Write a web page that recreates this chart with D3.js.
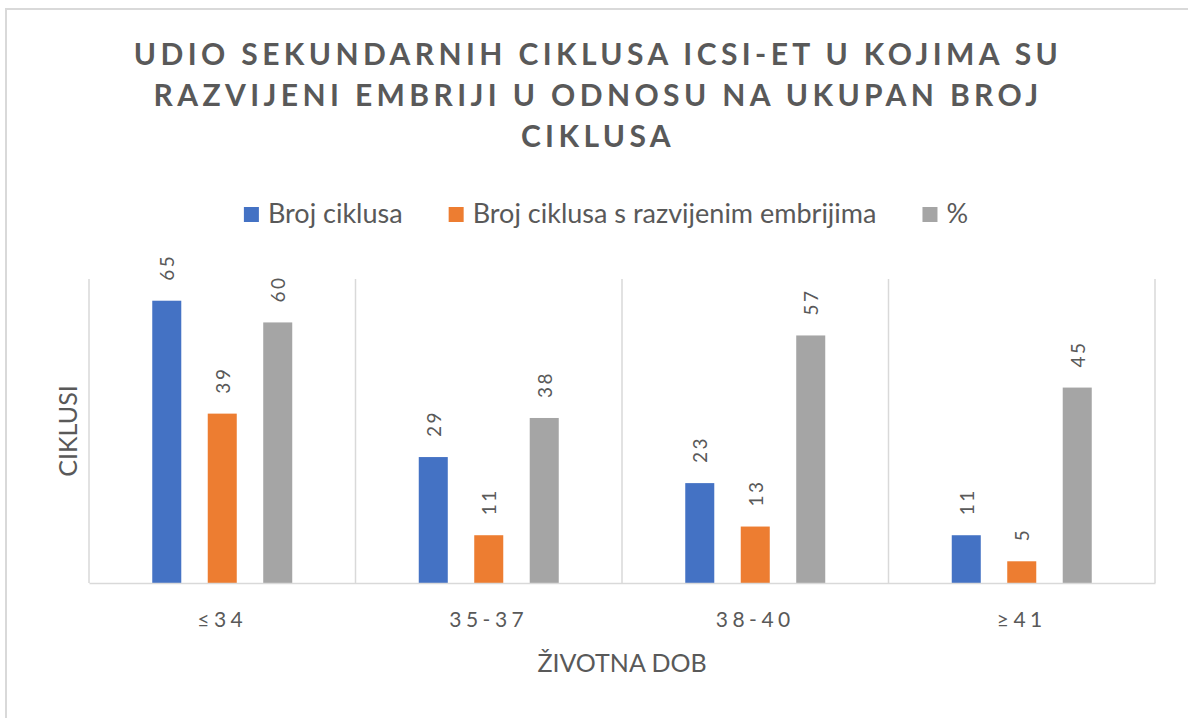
<!DOCTYPE html>
<html>
<head>
<meta charset="utf-8">
<script src="https://cdnjs.cloudflare.com/ajax/libs/d3/7.8.5/d3.min.js"></script>
<style>
  body { margin: 0; background: #ffffff; }
  text { font-family: Lato, "Open Sans", sans-serif; fill: #595959; }
</style>
</head>
<body>
<div id="chart"></div>
<script>
// data
var categories = ["≤34", "35-37", "38-40", "≥41"];
var seriesNames = ["Broj ciklusa", "Broj ciklusa s razvijenim embrijima", "%"];
var brojCiklusa = [65, 29, 23, 11];
var sEmbrijima = [39, 11, 13, 5];
var postotak = [60, 38, 57, 45];
var titleLines = ["UDIO SEKUNDARNIH CIKLUSA ICSI-ET U KOJIMA SU",
                  "RAZVIJENI EMBRIJI U ODNOSU NA UKUPAN BROJ",
                  "CIKLUSA"];
var yMax = 70;

var colors = ["#4472C4", "#ED7D31", "#A5A5A5"];

var width = 1188,
    height = 718,
    margin = {top: 279, right: 33, bottom: 135, left: 89},
    midX = 598;

var svg = d3.select("#chart")
    .append("svg")
    .attr("width", width)
    .attr("height", height);

svg.append("rect")
    .attr("width", width).attr("height", height)
    .attr("fill", "#ffffff");

// outer chart border (cropped on right/bottom in the original)
svg.append("rect")
    .attr("x", 6).attr("y", 9)
    .attr("width", 1220).attr("height", 740)
    .attr("fill", "none")
    .attr("stroke", "#D9D9D9")
    .attr("stroke-width", 2);

// title
var title = svg.append("g").attr("class", "title");
title.selectAll("text")
  .data(titleLines)
  .enter().append("text")
    .attr("x", midX)
    .attr("y", function(d, i) { return 65 + i * 41; })
    .attr("text-anchor", "middle")
    .attr("font-size", 30)
    .attr("font-weight", "bold")
    .attr("letter-spacing", 4.4)
    .text(function(d) { return d; });

// scales
var x0 = d3.scaleBand()
    .domain(categories)
    .range([margin.left, width - margin.right])
    .padding(0);

var x1 = d3.scaleBand()
    .domain(d3.range(seriesNames.length))
    .range([0, x0.bandwidth()])
    .paddingInner(0.477)
    .paddingOuter(1.14);

var y = d3.scaleLinear()
    .domain([0, yMax])
    .range([height - margin.bottom, margin.top]);

// vertical category gridlines
var bounds = categories.map(function(c) { return x0(c); }).concat([x0.range()[1]]);
svg.append("g").selectAll("line")
  .data(bounds)
  .enter().append("line")
    .attr("x1", function(d) { return d; })
    .attr("x2", function(d) { return d; })
    .attr("y1", y(yMax))
    .attr("y2", y(0))
    .attr("stroke", "#D9D9D9")
    .attr("stroke-width", 1.5);

// bars
var rows = categories.map(function(c, i) {
  return {cat: c, values: [brojCiklusa[i], sEmbrijima[i], postotak[i]]};
});

var groups = svg.append("g").selectAll("g")
  .data(rows)
  .enter().append("g")
    .attr("transform", function(d) { return "translate(" + x0(d.cat) + ",0)"; });

groups.selectAll("rect")
  .data(function(d) { return d.values; })
  .enter().append("rect")
    .attr("x", function(d, i) { return x1(i); })
    .attr("y", function(d) { return y(d); })
    .attr("width", x1.bandwidth())
    .attr("height", function(d) { return y(0) - y(d); })
    .attr("fill", function(d, i) { return colors[i]; });

groups.selectAll("text")
  .data(function(d) { return d.values; })
  .enter().append("text")
    .attr("transform", function(d, i) {
      return "translate(" + (x1(i) + x1.bandwidth() / 2 + 1) + "," + (y(d) - 20) + ") rotate(-90)";
    })
    .attr("dy", "0.35em")
    .attr("font-size", 19)
    .attr("letter-spacing", 2.5)
    .text(function(d) { return d; });

// x axis
var xAxis = svg.append("g")
    .attr("transform", "translate(0," + y(0) + ")")
    .call(d3.axisBottom(x0).tickSize(0).tickPadding(0));

xAxis.select(".domain")
    .attr("stroke", "#D9D9D9")
    .attr("stroke-width", 1.5);

xAxis.selectAll(".tick text")
    .attr("y", 44)
    .attr("dy", 0)
    .attr("font-size", 21)
    .attr("letter-spacing", 4.5)
    .attr("font-family", "Lato, sans-serif")
    .attr("fill", "#595959");

// axis titles
svg.append("text")
    .attr("x", (margin.left + width - margin.right) / 2)
    .attr("y", 672)
    .attr("text-anchor", "middle")
    .attr("font-size", 25)
    .text("ŽIVOTNA DOB");

svg.append("text")
    .attr("transform", "translate(77," + (y(yMax) + y(0)) / 2 + ") rotate(-90)")
    .attr("text-anchor", "middle")
    .attr("font-size", 25)
    .text("CIKLUSI");

// legend
var legend = svg.append("g");
var items = legend.selectAll("g")
  .data(seriesNames)
  .enter().append("g");

items.append("rect")
    .attr("width", 15).attr("height", 15)
    .attr("y", 207)
    .attr("fill", function(d, i) { return colors[i]; });

items.append("text")
    .attr("x", 24)
    .attr("y", 223)
    .attr("font-size", 27)
    .text(function(d) { return d; });

var pos = 0;
items.each(function() {
  var w = this.querySelector("text").getComputedTextLength();
  d3.select(this).attr("transform", "translate(" + pos + ",0)");
  pos += 24 + w + 46;
});
pos -= 46;
legend.attr("transform", "translate(" + (606 - pos / 2) + ",0)");
</script>
</body>
</html>
